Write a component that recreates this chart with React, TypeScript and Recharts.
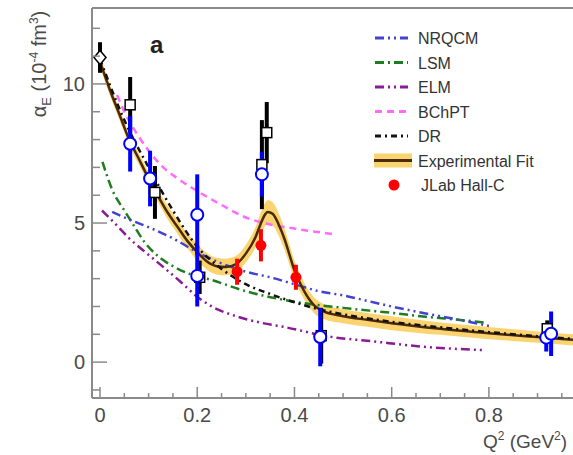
import React from 'react';
import { ComposedChart, Line, Area, Scatter, ErrorBar, XAxis, YAxis } from 'recharts';

// Q^2 (GeV^2) vs alpha_E (1e-4 fm^3)

const fitQ = [0, 0.02, 0.04, 0.06, 0.08, 0.1, 0.12, 0.14, 0.16, 0.18, 0.2, 0.22, 0.24, 0.26, 0.28, 0.3, 0.32, 0.33, 0.34, 0.345, 0.355, 0.37, 0.38, 0.39, 0.4, 0.41, 0.42, 0.44, 0.46, 0.5, 0.55, 0.6, 0.7, 0.8, 0.9, 0.973];
const fitA = [10.8, 9.8, 8.9, 8.0, 7.3, 6.6, 5.95, 5.35, 4.85, 4.35, 3.95, 3.62, 3.45, 3.42, 3.52, 3.9, 4.5, 4.95, 5.32, 5.4, 5.33, 4.85, 4.4, 3.85, 3.3, 2.9, 2.55, 2.05, 1.82, 1.65, 1.52, 1.4, 1.2, 1.04, 0.9, 0.8];
const fitErr = [0.2, 0.2, 0.2, 0.2, 0.2, 0.22, 0.22, 0.24, 0.25, 0.27, 0.3, 0.3, 0.3, 0.3, 0.3, 0.32, 0.36, 0.4, 0.42, 0.42, 0.42, 0.4, 0.38, 0.36, 0.34, 0.32, 0.3, 0.28, 0.27, 0.25, 0.25, 0.25, 0.22, 0.22, 0.2, 0.2];

const drQ = [0, 0.05, 0.1, 0.15, 0.2, 0.25, 0.3, 0.35, 0.4, 0.45, 0.5, 0.6, 0.7, 0.8, 0.9, 0.973];
const drA = [10.9, 8.7, 7.0, 5.45, 4.15, 3.35, 2.8, 2.45, 2.15, 1.9, 1.72, 1.45, 1.25, 1.08, 0.93, 0.84];

const bchptQ = [0.035, 0.05, 0.08, 0.1, 0.13, 0.16, 0.2, 0.25, 0.3, 0.35, 0.4, 0.48];
const bchptA = [9.6, 9.0, 8.1, 7.6, 7.0, 6.6, 6.15, 5.65, 5.2, 4.95, 4.8, 4.6];

const nrqcmQ = [0.025, 0.05, 0.1, 0.15, 0.2, 0.25, 0.3, 0.35, 0.4, 0.45, 0.5, 0.55, 0.6, 0.67, 0.73, 0.8];
const nrqcmA = [5.4, 5.2, 4.85, 4.45, 3.95, 3.55, 3.25, 3.05, 2.8, 2.55, 2.4, 2.2, 2.0, 1.75, 1.55, 1.3];

const lsmQ = [0.005, 0.025, 0.05, 0.07, 0.09, 0.12, 0.15, 0.18, 0.23, 0.3, 0.4, 0.5, 0.6, 0.67, 0.75, 0.79];
const lsmA = [7.2, 6.2, 5.45, 4.9, 4.35, 3.8, 3.45, 3.2, 2.95, 2.55, 2.17, 1.95, 1.77, 1.63, 1.5, 1.42];

const elmQ = [0.004, 0.03, 0.06, 0.09, 0.128, 0.165, 0.2, 0.23, 0.28, 0.33, 0.38, 0.47, 0.56, 0.66, 0.79];
const elmA = [5.45, 5.0, 4.45, 4.0, 3.45, 2.9, 2.35, 2.0, 1.65, 1.42, 1.26, 0.92, 0.75, 0.56, 0.43];

// measurements
const diamondQ = [0];
const diamondA = [10.95];
const diamondE = [0.55];

const squareQ = [0.062, 0.113, 0.205, 0.333, 0.343, 0.455, 0.92];
const squareA = [9.25, 6.1, 3.05, 7.1, 8.25, 0.95, 1.2];
const squareE = [1.0, 0.95, 0.6, 1.6, 1.1, 1.0, 0.3];

const circleQ = [0.062, 0.103, 0.2, 0.2, 0.333, 0.453, 0.918, 0.928];
const circleA = [7.85, 6.6, 5.3, 3.1, 6.75, 0.9, 0.88, 1.02];
const circleE = [1.0, 1.0, 1.45, 1.1, 0.8, 1.05, 0.5, 0.8];

const jlabQ = [0.282, 0.331, 0.403];
const jlabA = [3.25, 4.2, 3.05];
const jlabE = [0.47, 0.58, 0.45];

const xTicks = [0, 0.05, 0.1, 0.15, 0.2, 0.25, 0.3, 0.35, 0.4, 0.45, 0.5, 0.55, 0.6, 0.65, 0.7, 0.75, 0.8, 0.85, 0.9, 0.95];
const xMajor = [0, 0.2, 0.4, 0.6, 0.8];
const yTicks = [-1, 0, 1, 2, 3, 4, 5, 6, 7, 8, 9, 10, 11, 12];

const AXIS = '#8a8a8a';
const TXT = '#4a4a4a';
const FONT = '"Liberation Sans", Arial, Helvetica, sans-serif';

const C = {
  nrqcm: '#4343d2',
  lsm: '#1e7d1e',
  elm: '#8a1a96',
  bchpt: '#ff6bff',
  dr: '#111111',
  fit: '#4a2a08',
  band: '#f8c540',
  blue: '#0000ff',
  red: '#ff0000',
};

const DASH = {
  nrqcm: '9 4 2 4 2 4',
  lsm: '9 4 2 4',
  elm: '9 4 2 4 2 4',
  bchpt: '7 5',
  dr: '6 4 2 4',
};

const zip = (q: number[], a: number[]) => q.map((v, i) => ({ q: v, a: a[i] }));
const zipE = (q: number[], a: number[], e: number[]) => q.map((v, i) => ({ q: v, a: a[i], e: e[i] }));

const bandData = fitQ.map((v, i) => ({ q: v, band: [fitA[i] - fitErr[i], fitA[i] + fitErr[i]] }));

const YTick = (props: any) => {
  const { x, y, payload } = props;
  const v = payload.value;
  const major = v % 5 === 0;
  return (
    <g>
      <line x1={x} x2={x + (major ? 15 : 8)} y1={y} y2={y} stroke={AXIS} strokeWidth={1.5} />
      {major && (
        <text x={x - 7} y={y} dy={7} textAnchor="end" fontSize={20} fill={TXT} fontFamily={FONT}>
          {v}
        </text>
      )}
    </g>
  );
};

const XTick = (props: any) => {
  const { x, y, payload } = props;
  const v = Number(payload.value);
  const major = xMajor.some((m) => Math.abs(m - v) < 1e-6);
  return (
    <g>
      <line x1={x} x2={x} y1={y} y2={y - (major ? 11 : 5)} stroke={AXIS} strokeWidth={1.5} />
      {major && (
        <text x={x} y={y} dy={24} textAnchor="middle" fontSize={20} fill={TXT} fontFamily={FONT}>
          {v === 0 ? '0' : v.toFixed(1)}
        </text>
      )}
    </g>
  );
};

const Square = (props: any) => {
  const { cx, cy } = props;
  return <rect x={cx - 5} y={cy - 5} width={10} height={10} fill="#fff" stroke="#000" strokeWidth={1.5} />;
};
const Circle = (props: any) => {
  const { cx, cy } = props;
  return <circle cx={cx} cy={cy} r={6} fill="#fff" stroke={C.blue} strokeWidth={2} />;
};
const Dot = (props: any) => {
  const { cx, cy } = props;
  return <circle cx={cx} cy={cy} r={5.5} fill={C.red} />;
};
const Diamond = (props: any) => {
  const { cx, cy } = props;
  return <polygon points={`${cx},${cy - 7} ${cx + 6},${cy} ${cx},${cy + 7} ${cx - 6},${cy}`} fill="#fff" stroke="#000" strokeWidth={1.5} />;
};

const legendRows = [
  { name: 'NRQCM', color: C.nrqcm, dash: DASH.nrqcm },
  { name: 'LSM', color: C.lsm, dash: DASH.lsm },
  { name: 'ELM', color: C.elm, dash: DASH.elm },
  { name: 'BChPT', color: C.bchpt, dash: DASH.bchpt },
  { name: 'DR', color: C.dr, dash: DASH.dr },
  { name: 'Experimental Fit', color: C.fit, dash: '' },
  { name: 'JLab Hall-C', color: C.red, dash: '' },
];

const LegendBox = () => (
  <g fontFamily={FONT}>
    {legendRows.map((r, i) => {
      const y = 38 + i * 24.5;
      let icon;
      if (r.name === 'Experimental Fit') {
        icon = (
          <g>
            <rect x={374} y={y - 7} width={38} height={14} fill={C.band} opacity={0.75} />
            <line x1={374} x2={412} y1={y} y2={y} stroke={C.fit} strokeWidth={3} />
          </g>
        );
      } else if (r.name === 'JLab Hall-C') {
        icon = <circle cx={394} cy={y} r={5.5} fill={C.red} />;
      } else {
        icon = <line x1={375} x2={408} y1={y} y2={y} stroke={r.color} strokeWidth={3} strokeDasharray={r.dash} />;
      }
      return (
        <g key={r.name}>
          {icon}
          <text x={r.name === 'JLab Hall-C' ? 421 : 418} y={y} dy={6} fontSize={16} fill="#333">
            {r.name}
          </text>
        </g>
      );
    })}
  </g>
);

const seriesLine = (key: string, data: any[], color: string, dash: string, width = 2.5) => (
  <Line
    key={key}
    data={data}
    dataKey="a"
    type="monotone"
    stroke={color}
    strokeWidth={width}
    strokeDasharray={dash || undefined}
    dot={false}
    activeDot={false}
    isAnimationActive={false}
    legendType="none"
  />
);

export default function App() {
  return (
    <div style={{ width: 573, height: 455, background: '#fff', position: 'relative', overflow: 'hidden' }}>
      <style>{'body{margin:0}'}</style>
      <ComposedChart width={573} height={455} margin={{ top: 8, right: 0, bottom: 0, left: 0 }}>
        <XAxis
          dataKey="q"
          type="number"
          domain={[-0.0165, 0.973]}
          ticks={xTicks}
          interval={0}
          tick={<XTick />}
          tickSize={0}
          tickMargin={0}
          tickLine={false}
          height={57}
          axisLine={{ stroke: AXIS, strokeWidth: 2 }}
          allowDataOverflow
        />
        <YAxis
          type="number"
          domain={[-1.29, 12.73]}
          ticks={yTicks}
          tick={<YTick />}
          tickSize={0}
          tickMargin={0}
          tickLine={false}
          width={92}
          axisLine={{ stroke: AXIS, strokeWidth: 2 }}
          allowDataOverflow
          interval={0}
        />
        <Area
          data={bandData}
          dataKey="band"
          type="monotone"
          stroke="none"
          fill={C.band}
          fillOpacity={0.75}
          isAnimationActive={false}
          activeDot={false}
        />
        {seriesLine('elm', zip(elmQ, elmA), C.elm, DASH.elm)}
        {seriesLine('lsm', zip(lsmQ, lsmA), C.lsm, DASH.lsm)}
        {seriesLine('nrqcm', zip(nrqcmQ, nrqcmA), C.nrqcm, DASH.nrqcm)}
        {seriesLine('bchpt', zip(bchptQ, bchptA), C.bchpt, DASH.bchpt)}
        {seriesLine('fit', zip(fitQ, fitA), C.fit, '', 2.5)}
        {seriesLine('dr', zip(drQ, drA), C.dr, DASH.dr)}
        <Scatter data={zipE(diamondQ, diamondA, diamondE)} dataKey="a" shape={<Diamond />} isAnimationActive={false}>
          <ErrorBar dataKey="e" direction="y" width={0} stroke="#000" strokeWidth={4} />
        </Scatter>
        <Scatter data={zipE(squareQ, squareA, squareE)} dataKey="a" shape={<Square />} isAnimationActive={false}>
          <ErrorBar dataKey="e" direction="y" width={0} stroke="#000" strokeWidth={4} />
        </Scatter>
        <Scatter data={zipE(circleQ, circleA, circleE)} dataKey="a" shape={<Circle />} isAnimationActive={false}>
          <ErrorBar dataKey="e" direction="y" width={0} stroke={C.blue} strokeWidth={4} />
        </Scatter>
        <Scatter data={zipE(jlabQ, jlabA, jlabE)} dataKey="a" shape={<Dot />} isAnimationActive={false}>
          <ErrorBar dataKey="e" direction="y" width={0} stroke={C.red} strokeWidth={4} />
        </Scatter>
        <line x1={92} x2={573} y1={8} y2={8} stroke={AXIS} strokeWidth={2} />
        <text x={150} y={53} fontSize={24} fontWeight="bold" fill="#222" fontFamily={FONT}>a</text>
        <text transform="translate(46,64) rotate(-90)" textAnchor="middle" fontSize={20} fill={TXT} fontFamily={FONT}>
          α<tspan fontSize={13} dy={5}>E</tspan>
          <tspan dy={-5}> (10</tspan>
          <tspan fontSize={12} dy={-8}>-4</tspan>
          <tspan dy={8}> fm</tspan>
          <tspan fontSize={12} dy={-8}>3</tspan>
          <tspan dy={8}>)</tspan>
        </text>
        <text x={483} y={448} fontSize={19} fill={TXT} fontFamily={FONT}>
          Q<tspan fontSize={12} dy={-8}>2</tspan>
          <tspan dy={8}> (GeV</tspan>
          <tspan fontSize={12} dy={-8}>2</tspan>
          <tspan dy={8}>)</tspan>
        </text>
        <LegendBox />
      </ComposedChart>
    </div>
  );
}
